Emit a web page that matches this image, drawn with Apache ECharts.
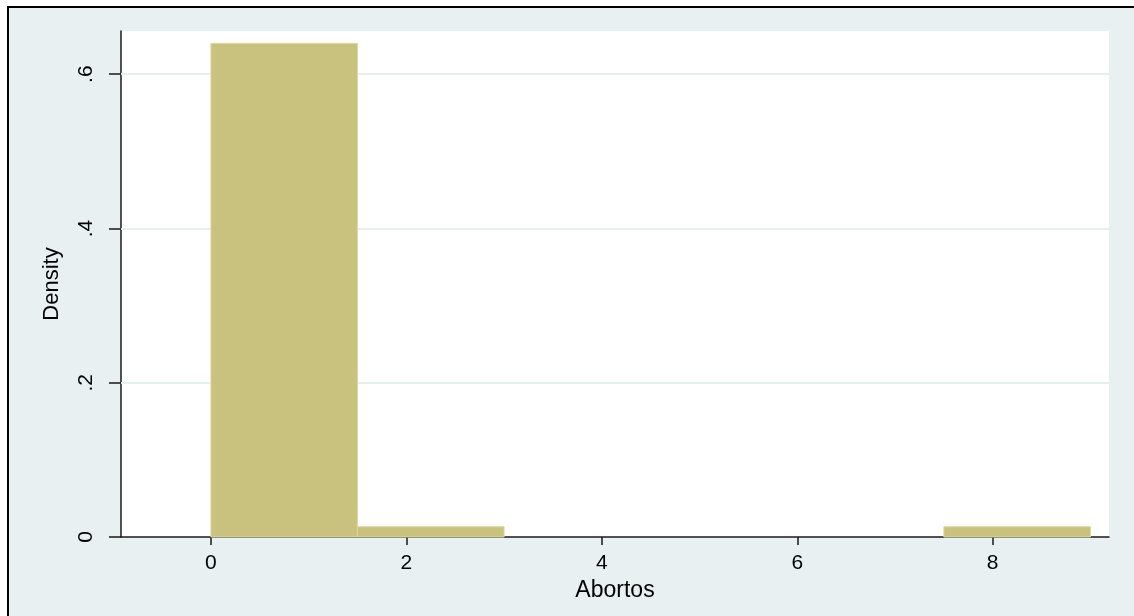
<!DOCTYPE html>
<html>
<head>
<meta charset="utf-8">
<script src="https://cdn.jsdelivr.net/npm/echarts@6/dist/echarts.min.js"></script>
<style>
  html, body { margin: 0; padding: 0; background: #ffffff; }
  #chart { width: 1134px; height: 616px; }
</style>
</head>
<body>
<div id="chart"></div>
<script>
// Histogram of "Abortos" (density), bin width 1.5
const binStarts = [0, 1.5, 3, 4.5, 6, 7.5];
const binEnds   = [1.5, 3, 4.5, 6, 7.5, 9];
const densities = [0.64, 0.01333, 0, 0, 0, 0.01333];
const xTickValues = [0, 2, 4, 6, 8];
const yTickValues = [0, 0.2, 0.4, 0.6];
const xAxisTitle = 'Abortos';
const yAxisTitle = 'Density';

const histData = binStarts.map((s, i) => [s, binEnds[i], densities[i]]);

const chart = echarts.init(document.getElementById('chart'));
const labelFont = 'Liberation Sans, Arial, sans-serif';

chart.setOption({
  animation: false,
  backgroundColor: '#ffffff',
  graphic: [
    { type: 'rect', z: -10, silent: true,
      shape: { x: 8, y: 7, width: 1126, height: 609 },
      style: { fill: '#e8f0f2' } },
    { type: 'line', z: -9, silent: true,
      shape: { x1: 7, y1: 7, x2: 1134, y2: 7 },
      style: { stroke: '#000000', lineWidth: 2 } },
    { type: 'line', z: -9, silent: true,
      shape: { x1: 8, y1: 6, x2: 8, y2: 616 },
      style: { stroke: '#000000', lineWidth: 2 } }
  ],
  grid: {
    left: 121, right: 25, top: 31, bottom: 79,
    show: true, backgroundColor: '#ffffff', borderWidth: 0
  },
  xAxis: {
    type: 'value',
    min: -0.92,
    max: 9.19,
    name: xAxisTitle,
    nameLocation: 'middle',
    nameGap: 29,
    nameTextStyle: { fontFamily: labelFont, fontSize: 23, color: '#000' },
    axisLine: { show: true, onZero: false, lineStyle: { color: '#1a1a1a', width: 1.5 } },
    axisTick: { show: true, length: 8, customValues: xTickValues, lineStyle: { color: '#1a1a1a', width: 1.5 } },
    axisLabel: { customValues: xTickValues, margin: 16, fontFamily: labelFont, fontSize: 21, color: '#000' },
    splitLine: { show: false }
  },
  yAxis: {
    type: 'value',
    min: 0,
    max: 0.656,
    name: yAxisTitle,
    nameLocation: 'middle',
    nameGap: 58,
    nameRotate: 90,
    nameTextStyle: { fontFamily: labelFont, fontSize: 22, color: '#000' },
    axisLine: { show: true, onZero: false, lineStyle: { color: '#1a1a1a', width: 1.5 } },
    axisTick: { show: true, length: 12, customValues: yTickValues, lineStyle: { color: '#1a1a1a', width: 1.5 } },
    axisLabel: {
      customValues: yTickValues,
      rotate: 90,
      margin: 24,
      fontFamily: labelFont, fontSize: 21, color: '#000',
      formatter: v => v === 0 ? '0' : String(Math.round(v * 10) / 10).replace(/^0/, '')
    },
    splitLine: { show: false }
  },
  series: [{
    type: 'custom',
    data: histData,
    encode: { x: [0, 1], y: 2 },
    renderItem: function (params, api) {
      const h = api.value(2);
      if (!h) return null;
      const p0 = api.coord([api.value(0), h]);
      const p1 = api.coord([api.value(1), 0]);
      return {
        type: 'rect',
        z2: 10,
        shape: { x: p0[0], y: p0[1], width: p1[0] - p0[0], height: p1[1] - p0[1] },
        style: { fill: '#c9c27f', stroke: '#ddd8a8', lineWidth: 1 }
      };
    },
    markLine: {
      silent: true,
      symbol: ['none', 'none'],
      label: { show: false },
      z: 1,
      lineStyle: { color: '#e6efef', width: 2, type: 'solid' },
      data: yTickValues.filter(v => v > 0).map(v => ({ yAxis: v }))
    }
  }]
});
</script>
</body>
</html>
